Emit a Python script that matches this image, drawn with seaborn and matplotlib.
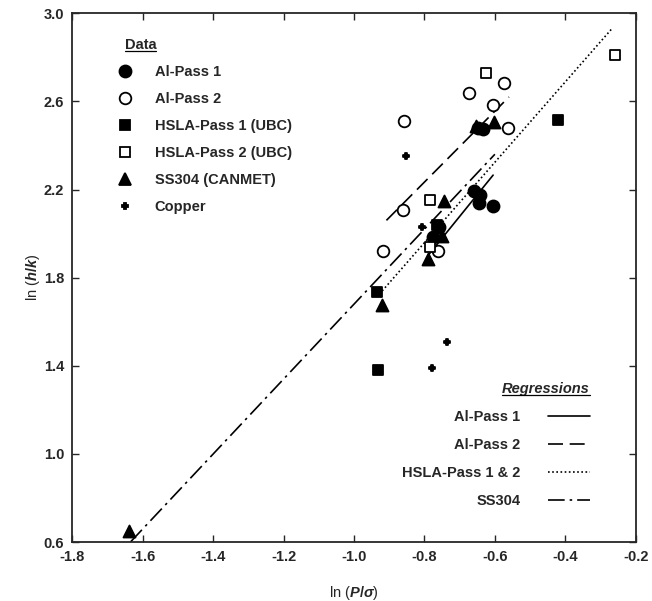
import numpy as np
import pandas as pd
import seaborn as sns
import matplotlib.pyplot as plt
from matplotlib.lines import Line2D

# measured points, ln(P/sigma) vs ln(h/k)
al1_x = [-0.648, -0.634, -0.658, -0.643, -0.646, -0.606, -0.776, -0.758]
al1_y = [2.480, 2.476, 2.195, 2.173, 2.138, 2.127, 1.985, 2.030]
al2_x = [-0.858, -0.674, -0.575, -0.606, -0.563, -0.861, -0.918, -0.762]
al2_y = [2.509, 2.638, 2.683, 2.582, 2.480, 2.108, 1.920, 1.923]
hsla1_x = [-0.935, -0.932, -0.421, -0.765]
hsla1_y = [1.733, 1.380, 2.517, 2.040]
hsla2_x = [-0.624, -0.783, -0.783, -0.258]
hsla2_y = [2.729, 2.153, 1.940, 2.809]
ss_x = [-0.654, -0.603, -0.745, -0.750, -0.790, -0.920, -1.639]
ss_y = [2.490, 2.506, 2.150, 1.990, 1.885, 1.677, 0.650]
cu_x = [-0.853, -0.806, -0.736, -0.779]
cu_y = [2.350, 2.029, 1.506, 1.388]

series_names = ["Al-Pass 1", "Al-Pass 2", "HSLA-Pass 1 (UBC)",
                "HSLA-Pass 2 (UBC)", "SS304 (CANMET)", "Copper"]

# regression fits: y = a + b*x over [x0, x1]
reg_names = ["Al-Pass 1", "Al-Pass 2", "HSLA-Pass 1 & 2", "SS304"]
reg_a = [3.459, 3.521, 3.418, 3.380]
reg_b = [1.973, 1.609, 1.824, 1.700]
reg_x0 = [-0.790, -0.908, -0.920, -1.635]
reg_x1 = [-0.605, -0.560, -0.265, -0.600]

xs_all = [al1_x, al2_x, hsla1_x, hsla2_x, ss_x, cu_x]
ys_all = [al1_y, al2_y, hsla1_y, hsla2_y, ss_y, cu_y]
df = pd.concat([pd.DataFrame({"x": x, "y": y, "series": n})
                for n, x, y in zip(series_names, xs_all, ys_all)])

sns.set_style("ticks")
plt.rcParams['font.family'] = ['Liberation Sans', 'DejaVu Sans']
plt.rcParams['font.weight'] = 'bold'
plt.rcParams['mathtext.fontset'] = 'custom'
plt.rcParams['mathtext.rm'] = 'Liberation Sans:bold'
plt.rcParams['mathtext.it'] = 'Liberation Sans:italic:bold'

styles = {
    "Al-Pass 1": dict(marker='o', s=75, fc='black'),
    "Al-Pass 2": dict(marker='o', s=70, fc='white'),
    "HSLA-Pass 1 (UBC)": dict(marker='s', s=60, fc='black'),
    "HSLA-Pass 2 (UBC)": dict(marker='s', s=60, fc='white'),
    "SS304 (CANMET)": dict(marker='^', s=75, fc='black'),
    "Copper": dict(marker='P', s=14, fc='black'),
}

fig = plt.figure(figsize=(6.52, 6.01), dpi=100)
ax = fig.add_axes([0.111, 0.098, 0.864, 0.880])

reg_styles = ['-', (0, (9, 4)), (0, (1, 1.5)), (0, (10, 3, 1.5, 3))]
reg_handles = []
for name, a, b, x0, x1, ls in zip(reg_names, reg_a, reg_b, reg_x0, reg_x1, reg_styles):
    xx = np.array([x0, x1])
    sns.lineplot(x=xx, y=a + b * xx, ax=ax, color='black', lw=1.2,
                 linestyle=ls, legend=False)
    reg_handles.append(Line2D([], [], color='black', lw=1.2, linestyle=ls))

data_handles = []
for name in series_names:
    st = styles[name]
    sub = df[df["series"] == name]
    sns.scatterplot(data=sub, x="x", y="y", ax=ax, marker=st['marker'], s=st['s'],
                    facecolor=st['fc'], edgecolor='black', linewidth=1.3, legend=False,
                    zorder=3)
    data_handles.append(Line2D([], [], ls='none', marker=st['marker'],
                               markersize=np.sqrt(st['s']), markerfacecolor=st['fc'],
                               markeredgecolor='black', markeredgewidth=1.3))

ax.set_xlim(-1.8, -0.2)
ax.set_ylim(0.6, 3.0)
ax.set_xticks(np.arange(-1.8, -0.19, 0.2))
ax.set_yticks(np.arange(0.6, 3.01, 0.4))
ax.xaxis.set_major_formatter(plt.FormatStrFormatter('%.1f'))
ax.yaxis.set_major_formatter(plt.FormatStrFormatter('%.1f'))
ax.tick_params(direction='in', top=True, right=True, length=5, width=1,
               labelsize=10.5, pad=6)
for sp in ax.spines.values():
    sp.set_linewidth(1.3)
ax.set_xlabel(r'ln ($\mathit{P/\sigma}$)', fontsize=10.5, labelpad=14)
ax.set_ylabel(r'ln ($\mathit{h/k}$)', fontsize=10.5, labelpad=1)

leg1 = ax.legend(data_handles, series_names, loc='upper left',
                 bbox_to_anchor=(0.044, 0.926), frameon=False, fontsize=10.5,
                 handletextpad=1.05, labelspacing=0.88)
ax.add_artist(leg1)
t1 = ax.text(0.093, 0.9395, 'Data', transform=ax.transAxes, fontsize=10.5,
             ha='left', va='center')
leg2 = ax.legend(reg_handles, reg_names, loc='lower right',
                 bbox_to_anchor=(0.942, 0.040), frameon=False, fontsize=10.5,
                 title='Regressions', title_fontsize=10.5, alignment='right',
                 markerfirst=False, handlelength=2.87, handletextpad=1.9,
                 labelspacing=0.95)
leg2.get_title().set_fontstyle('italic')

# underline the two titles
fig.canvas.draw()
inv = fig.transFigure.inverted()
for t in (t1, leg2.get_title()):
    bb = t.get_window_extent()
    (x0, y0), (x1, _) = inv.transform([(bb.x0, bb.y0), (bb.x1, bb.y0)])
    fig.add_artist(Line2D([x0, x1], [y0 + 0.002, y0 + 0.002], color='black', lw=0.9,
                          transform=fig.transFigure))

fig.savefig('out.png', dpi=100)
